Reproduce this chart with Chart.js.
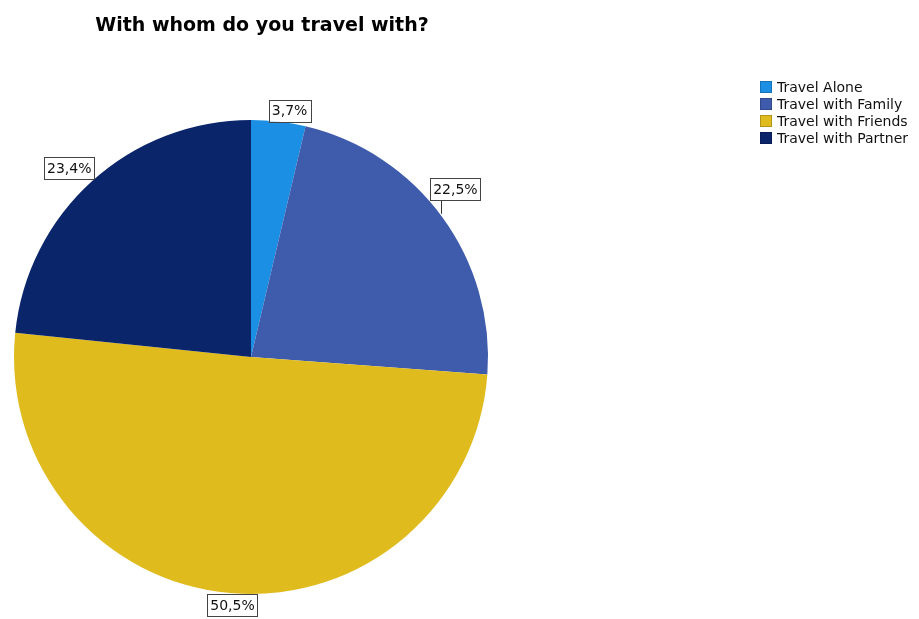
<!DOCTYPE html>
<html><head><meta charset="utf-8">
<script src="https://cdn.jsdelivr.net/npm/chart.js@4"></script>
<style>html,body{margin:0;padding:0;background:#fff}#wrap{width:919px;height:619px}</style>
</head><body><div id="wrap"><canvas id="c" width="919" height="619"></canvas></div>
<script>
const title = "With whom do you travel with?";
const categories = ["Travel Alone", "Travel with Family", "Travel with Friends", "Travel with Partner"];
const percents = [3.7, 22.5, 50.5, 23.4];
const valueLabels = ["3,7%", "22,5%", "50,5%", "23,4%"];
const colors = ["#1A8FE4", "#3F5BAB", "#E0BB1E", "#0B256B"];

const FONT = "DejaVu Sans, sans-serif";

const overlay = {
  id: 'overlay',
  afterDraw(chart) {
    const ctx = chart.ctx;
    ctx.save();
    // title
    ctx.fillStyle = '#000';
    ctx.font = 'bold 19px ' + FONT;
    ctx.textAlign = 'center';
    ctx.textBaseline = 'middle';
    ctx.fillText(title, 262, 26);
    // legend
    ctx.font = '14px ' + FONT;
    ctx.textAlign = 'left';
    categories.forEach((c, i) => {
      const y = 87 + i * 17;
      ctx.fillStyle = colors[i];
      ctx.fillRect(760, y - 6, 12, 12);
      ctx.strokeStyle = 'rgba(0,0,0,0.2)';
      ctx.lineWidth = 1;
      ctx.strokeRect(760.5, y - 5.5, 11, 11);
      ctx.fillStyle = '#111';
      ctx.fillText(c, 777, y + 1);
    });
    // value labels
    const meta = chart.getDatasetMeta(0);
    ctx.font = '14px ' + FONT;
    ctx.textAlign = 'center';
    meta.data.forEach((arc, i) => {
      const p = arc.getProps(['x', 'y', 'startAngle', 'endAngle', 'outerRadius'], true);
      const mid = (p.startAngle + p.endAngle) / 2;
      const dx = Math.cos(mid), dy = Math.sin(mid);
      const txt = valueLabels[i];
      const w = ctx.measureText(txt).width + 6, h = 22;
      const gap = 6;
      const ax = p.x + dx * (p.outerRadius + gap);
      const ay = p.y + dy * (p.outerRadius + gap);
      let cx = ax + dx * w / 2, cy = ay + dy * h / 2;
      if (i === 1) {
        cy -= 18; cx -= 12;
        ctx.strokeStyle = '#333';
        ctx.lineWidth = 1;
        ctx.beginPath();
        ctx.moveTo(Math.round(cx - w / 2 + 11) + 0.5, cy + h / 2);
        ctx.lineTo(Math.round(cx - w / 2 + 11) + 0.5, cy + h / 2 + 14);
        ctx.stroke();
      }
      if (i === 2) { cy -= 5; cx += 5; }
      if (i === 0) { cx += 8; cy += 6; }
      if (i === 3) { cx -= 2; }
      ctx.fillStyle = '#fff';
      ctx.fillRect(cx - w / 2, cy - h / 2, w, h);
      ctx.strokeStyle = '#444';
      ctx.lineWidth = 1;
      ctx.strokeRect(Math.round(cx - w / 2) + 0.5, Math.round(cy - h / 2) + 0.5, Math.round(w), h);
      ctx.fillStyle = '#111';
      ctx.fillText(txt, cx, cy + 1);
    });
    ctx.restore();
  }
};

new Chart(document.getElementById('c'), {
  type: 'pie',
  data: {
    labels: categories,
    datasets: [{ data: percents, backgroundColor: colors, borderWidth: 0 }]
  },
  options: {
    responsive: false,
    animation: false,
    layout: { padding: { left: 14, right: 431, top: 120, bottom: 25 } },
    plugins: { legend: { display: false }, tooltip: { enabled: false }, title: { display: false } }
  },
  plugins: [overlay]
});
</script></body></html>
